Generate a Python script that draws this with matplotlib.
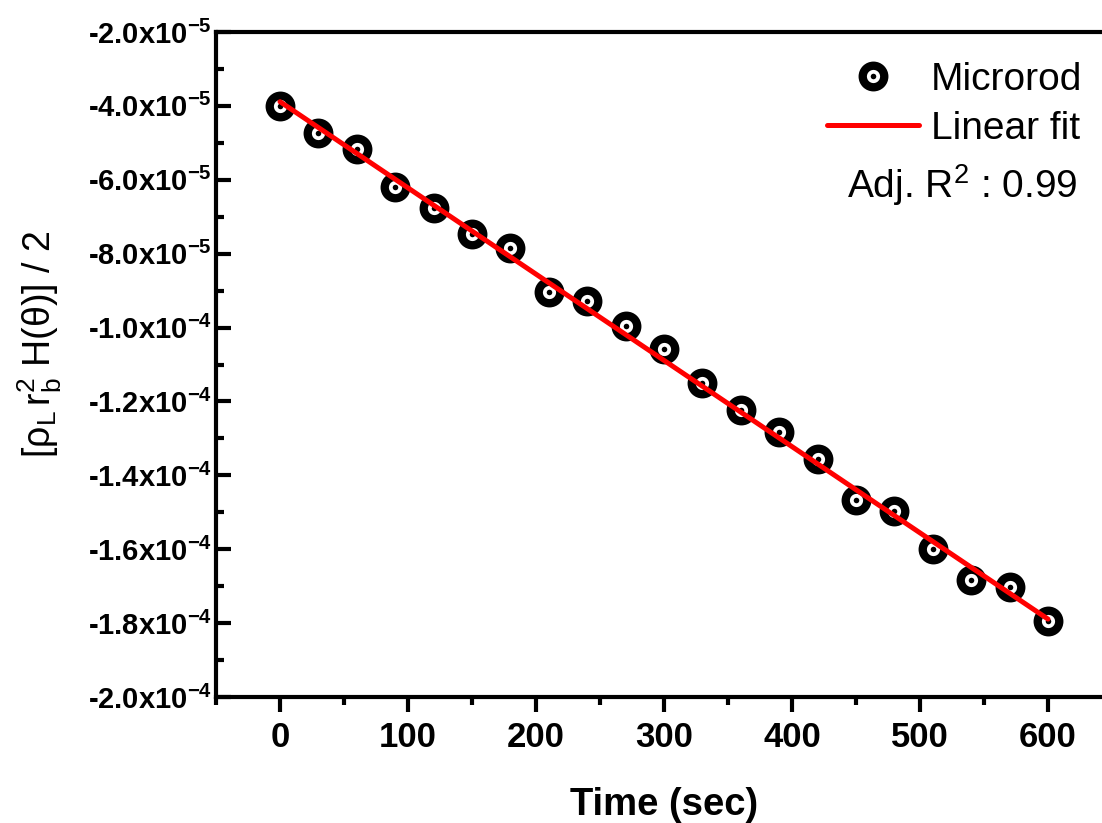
import numpy as np
import matplotlib
matplotlib.use("Agg")
import matplotlib.pyplot as plt
from matplotlib.ticker import MultipleLocator, FuncFormatter
from matplotlib.legend_handler import HandlerTuple

plt.rcParams['font.family'] = ['Liberation Sans', 'DejaVu Sans']
plt.rcParams['mathtext.fontset'] = 'custom'
plt.rcParams['mathtext.rm'] = 'Liberation Sans'
plt.rcParams['mathtext.it'] = 'Liberation Sans:italic'
plt.rcParams['mathtext.bf'] = 'Liberation Sans:bold'
plt.rcParams['axes.unicode_minus'] = False

# Data
time_sec = [0, 30, 60, 90, 120, 150, 180, 210, 240, 270, 300,
            330, 360, 390, 420, 450, 480, 510, 540, 570, 600]
microrod = [-4.00e-5, -4.74e-5, -5.16e-5, -6.20e-5, -6.76e-5, -7.47e-5,
            -7.86e-5, -9.03e-5, -9.27e-5, -9.97e-5, -1.057e-4, -1.151e-4,
            -1.224e-4, -1.284e-4, -1.357e-4, -1.468e-4, -1.497e-4,
            -1.600e-4, -1.684e-4, -1.703e-4, -1.795e-4]
series_label = "Microrod"
fit_label = "Linear fit"
adj_r2_text = "Adj. R$^\\mathrm{2}$ : 0.99"
x_label = "Time (sec)"
y_label = "[$\\mathrm{ρ_L\\,r_b^2}$ H(θ)] / 2"

x = np.array(time_sec, dtype=float)
y = np.array(microrod, dtype=float)
slope, intercept = np.polyfit(x, y, 1)
x_fit = np.array([x.min(), x.max()])
y_fit = slope * x_fit + intercept

W, H = 1102, 823
fig = plt.figure(figsize=(W / 100, H / 100), dpi=100)
left_px, right_px, bottom_px, top_px = 216, 1112, 697, 32
ax_w = right_px - left_px
ax_h = bottom_px - top_px
ax = fig.add_axes([left_px / W, 1 - bottom_px / H, ax_w / W, ax_h / H])

ring, = ax.plot(x, y, linestyle='none', marker='o', markersize=15.5,
                markerfacecolor='white', markeredgecolor='black',
                markeredgewidth=6, zorder=2)
dot, = ax.plot(x, y, linestyle='none', marker='o', markersize=4,
               markerfacecolor='black', markeredgecolor='black',
               markeredgewidth=0, zorder=3)
fitline, = ax.plot(x_fit, y_fit, color='#ff0000', linewidth=3.6, zorder=4,
                   solid_capstyle='round')

ax.set_xlim(-50, 650)
ax.set_ylim(-2.0e-4, -2.0e-5)

ax.xaxis.set_major_locator(MultipleLocator(100))
ax.xaxis.set_minor_locator(MultipleLocator(50))
ax.yaxis.set_major_locator(MultipleLocator(2e-5))
ax.yaxis.set_minor_locator(MultipleLocator(1e-5))


def yfmt(v, pos):
    if v == 0:
        return "0"
    exp = int(np.floor(np.log10(abs(v)) + 1e-9))
    mant = v / 10 ** exp
    return "%.1fx10$^{\\mathbf{%d}}$" % (mant, exp)


ax.yaxis.set_major_formatter(FuncFormatter(yfmt))

for s in ax.spines.values():
    s.set_linewidth(3)
ax.tick_params(axis='x', which='major', direction='out', length=11, width=3,
               labelsize=25, pad=6)
ax.tick_params(axis='x', which='minor', direction='out', length=6, width=3)
ax.tick_params(axis='y', which='major', direction='in', length=11, width=3,
               labelsize=21, pad=3)
ax.tick_params(axis='y', which='minor', direction='in', length=6, width=3)
for lab in ax.get_xticklabels() + ax.get_yticklabels():
    lab.set_fontweight('bold')

ax.set_xlabel(x_label, fontsize=27.5, fontweight='bold', labelpad=24)
ax.set_ylabel(y_label, fontsize=27, fontweight='normal')
ax.yaxis.set_label_coords((64 - left_px) / ax_w, (bottom_px - 344) / ax_h)

leg = ax.legend([(ring, dot), fitline], [series_label, fit_label],
                handler_map={tuple: HandlerTuple(ndivide=1, pad=0)},
                loc='upper right', bbox_to_anchor=(1082 / W, 1 - 62 / H),
                bbox_transform=fig.transFigure, frameon=False, fontsize=28,
                handlelength=2.36, handletextpad=0.3, labelspacing=0.33,
                borderpad=0, borderaxespad=0)

fig.text(1078 / W, 1 - 198 / H, adj_r2_text, fontsize=28, ha='right',
         va='baseline')

fig.savefig("out.png", dpi=100)
